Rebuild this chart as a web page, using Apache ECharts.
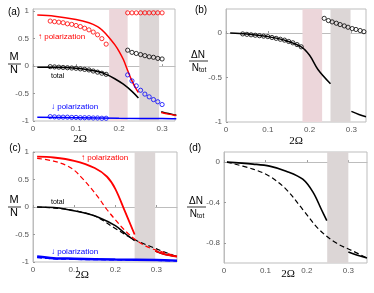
<!DOCTYPE html>
<html><head><meta charset="utf-8">
<script src="https://cdn.jsdelivr.net/npm/echarts@6/dist/echarts.min.js"></script>
<style>html,body{margin:0;padding:0;background:#fff}#c{width:374px;height:293px}</style>
</head><body><div id="c"></div>
<script>
// ---------- Panel (a) ----------
const aCircX1 = [0.04,0.05,0.06,0.07,0.08,0.09,0.10,0.11,0.12,0.13,0.14,0.15,0.16,0.17];
const aRedCirc1 = [0.82,0.81,0.80,0.79,0.77,0.76,0.74,0.72,0.69,0.66,0.62,0.57,0.50,0.40];
const aTotCirc1 = [-0.01,-0.015,-0.02,-0.025,-0.03,-0.035,-0.04,-0.05,-0.06,-0.07,-0.09,-0.11,-0.13,-0.15];
const aBlueCirc1 = [-0.92,-0.925,-0.93,-0.93,-0.93,-0.935,-0.935,-0.94,-0.94,-0.94,-0.945,-0.945,-0.95,-0.95];
const aCircX2 = [0.22,0.23,0.24,0.25,0.26,0.27,0.28,0.29,0.30];
const aRedCirc2 = [0.97,0.97,0.97,0.97,0.97,0.97,0.97,0.97,0.97];
const aTotCirc2 = [0.29,0.25,0.23,0.21,0.19,0.17,0.16,0.14,0.13];
const aBlueCirc2 = [-0.16,-0.27,-0.36,-0.44,-0.51,-0.56,-0.61,-0.65,-0.70];
const aRedLineX = [0.01,0.05,0.10,0.13,0.15,0.16,0.17,0.18,0.19,0.20,0.21,0.22,0.23,0.24,0.245];
const aRedLineY = [0.93,0.91,0.85,0.79,0.72,0.66,0.58,0.49,0.39,0.27,0.12,-0.08,-0.27,-0.42,-0.48];
const aTotLineX = [0.01,0.05,0.10,0.13,0.15,0.17,0.19,0.21,0.23,0.245];
const aTotLineY = [-0.02,-0.02,-0.04,-0.07,-0.10,-0.15,-0.23,-0.33,-0.46,-0.58];
const aRightX = [0.298,0.315,0.333];
const aRedRightY = [-0.845,-0.875,-0.90];
const aTotRightY = [-0.83,-0.865,-0.895];
const aBlueLineX = [0.01,0.10,0.20,0.30,0.333];
const aBlueLineY = [-0.93,-0.94,-0.95,-0.955,-0.96];
const aPinkBand = [0.177,0.22];
const aGrayBand = [0.247,0.293];

// ---------- Panel (b) ----------
const bCircX1 = [0.04,0.05,0.06,0.07,0.08,0.09,0.10,0.11,0.12,0.13,0.14,0.15,0.16,0.17,0.18];
const bCircY1 = [-0.01,-0.015,-0.02,-0.025,-0.03,-0.035,-0.04,-0.05,-0.06,-0.07,-0.08,-0.095,-0.11,-0.13,-0.155];
const bCircX2 = [0.235,0.245,0.254,0.264,0.273,0.283,0.292,0.302,0.311,0.321,0.33];
const bCircY2 = [0.165,0.14,0.125,0.11,0.095,0.08,0.065,0.05,0.04,0.028,0.015];
const bLineX = [0.01,0.05,0.10,0.14,0.18,0.20,0.22,0.25];
const bLineY = [0.0,-0.01,-0.04,-0.08,-0.155,-0.25,-0.41,-0.57];
const bRightX = [0.30,0.318,0.335];
const bRightY = [-0.88,-0.915,-0.94];
const bPinkBand = [0.183,0.23];
const bGrayBand = [0.25,0.298];

// ---------- Panel (c) ----------
const cRedX = [0.01,0.05,0.10,0.15,0.18,0.20,0.223,0.247];
const cRedY = [0.915,0.90,0.84,0.71,0.55,0.33,-0.07,-0.50];
const cRightX = [0.297,0.32,0.35];
const cRedRightY = [-0.80,-0.86,-0.90];
const cRedDashX = [0.01,0.05,0.08,0.10,0.12,0.14,0.16,0.18,0.20,0.22,0.243,0.26,0.283,0.32,0.35];
const cRedDashY = [0.885,0.835,0.76,0.67,0.52,0.35,0.16,-0.05,-0.23,-0.40,-0.56,-0.65,-0.74,-0.83,-0.90];
const cTotX = [0.01,0.05,0.08,0.12,0.16,0.20,0.227,0.247];
const cTotY = [0.0,-0.01,-0.04,-0.10,-0.19,-0.34,-0.50,-0.61];
const cTotDashX = [0.01,0.08,0.138,0.16,0.20,0.243,0.283,0.32,0.35];
const cTotDashY = [0.0,-0.04,-0.13,-0.20,-0.39,-0.58,-0.71,-0.82,-0.90];
const cBlueX = [0.01,0.05,0.10,0.20,0.30,0.35];
const cBlueY = [-0.90,-0.93,-0.94,-0.955,-0.965,-0.975];
const cBlueDashY = [-0.92,-0.94,-0.95,-0.96,-0.97,-0.98];
const cGrayBand = [0.247,0.297];

// ---------- Panel (d) ----------
const dX = [0.007,0.07,0.11,0.15,0.19,0.215,0.235,0.248];
const dY = [0.0,-0.02,-0.04,-0.09,-0.17,-0.30,-0.47,-0.58];
const dRightX = [0.30,0.32,0.345];
const dRightY = [-0.89,-0.92,-0.95];
const dDashX = [0.007,0.07,0.11,0.15,0.19,0.23,0.27,0.31,0.345];
const dDashY = [0.0,-0.07,-0.14,-0.27,-0.47,-0.67,-0.80,-0.88,-0.95];
const dGrayBand = [0.249,0.30];

// tick labels
const xTicks = [0,0.1,0.2,0.3];
const yTicksAC = [-1,-0.5,0,0.5,1];
const yTicksB = [-1,-0.5,0];
const yTicksD = [-0.8,-0.4,0];

const zip = (xs, ys) => xs.map((x,i)=>[x, ys[i]]);
const RED='#ff0000', BLUE='#0000ff', BLK='#000000';
const PINK='#ecd6da', GRAY='#dcd6d6';
const AX='#bdbdbd';

function grid(l,t,w,h){return {left:l,top:t,width:w,height:h,show:true,borderColor:AX,borderWidth:1,backgroundColor:'transparent'};}
function xAx(i,max){return {type:'value',gridIndex:i,min:0,max:max,
  axisLine:{show:true,lineStyle:{color:AX}},splitLine:{show:false},
  axisTick:{show:true,inside:true,length:2,lineStyle:{color:'#999'},customValues:xTicks},
  axisLabel:{customValues:xTicks,fontSize:8,color:'#555',fontFamily:'Liberation Sans',margin:4,formatter:v=>String(v)}};}
function yAx(i,min,max,ticks){return {type:'value',gridIndex:i,min:min,max:max,
  axisLine:{show:true,lineStyle:{color:AX}},splitLine:{show:false},
  axisTick:{show:true,inside:true,length:2,lineStyle:{color:'#999'},customValues:ticks},
  axisLabel:{customValues:ticks,fontSize:8,color:'#555',fontFamily:'Liberation Sans',margin:4,formatter:v=>String(v)}};}

function band(i, range, color){
  return {type:'line',xAxisIndex:i,yAxisIndex:i,data:[],silent:true,z:1,
    markArea:{silent:true,itemStyle:{color:color},data:[[{xAxis:range[0]},{xAxis:range[1]}]]}};
}
function line(i, data, color, opts){
  opts = opts||{};
  return {type:'line',xAxisIndex:i,yAxisIndex:i,data:data,showSymbol:false,smooth:0.35,z:opts.z||3,
    lineStyle:{color:color,width:opts.w||1.5,type:opts.dash?[5,3]:'solid'},silent:true,animation:false};
}
function circ(i, data, color){
  return {type:'scatter',xAxisIndex:i,yAxisIndex:i,data:data,symbol:'circle',symbolSize:4.2,z:4,
    itemStyle:{color:'rgba(0,0,0,0)',borderColor:color,borderWidth:1},silent:true,animation:false};
}

const series = [
  band(0,aPinkBand,PINK), band(0,aGrayBand,GRAY),
  line(0,zip(aBlueLineX,aBlueLineY),BLUE),
  line(0,zip(aTotLineX,aTotLineY),BLK),
  line(0,zip(aRedLineX,aRedLineY),RED),
  line(0,zip(aRightX,aTotRightY),BLK),
  line(0,zip(aRightX,aRedRightY),RED),
  circ(0,zip(aCircX1,aRedCirc1),RED), circ(0,zip(aCircX1,aTotCirc1),BLK), circ(0,zip(aCircX1,aBlueCirc1),BLUE),
  circ(0,zip(aCircX2,aRedCirc2),RED), circ(0,zip(aCircX2,aTotCirc2),BLK), circ(0,zip(aCircX2,aBlueCirc2),BLUE),

  band(1,bPinkBand,PINK), band(1,bGrayBand,GRAY),
  line(1,zip(bLineX,bLineY),BLK), line(1,zip(bRightX,bRightY),BLK),
  circ(1,zip(bCircX1,bCircY1),BLK), circ(1,zip(bCircX2,bCircY2),BLK),

  band(2,cGrayBand,GRAY),
  line(2,zip(cBlueX,cBlueDashY),BLUE,{dash:true}),
  line(2,zip(cBlueX,cBlueY),BLUE,{w:2.5}),
  line(2,zip(cTotDashX,cTotDashY),BLK,{dash:true,w:1.2}),
  line(2,zip(cTotX,cTotY),BLK),
  line(2,zip(cRightX,cRedRightY),BLK),
  line(2,zip(cRedDashX,cRedDashY),RED,{dash:true,w:1.2}),
  line(2,zip(cRedX,cRedY),RED,{w:1.8}),
  line(2,zip(cRightX,cRedRightY),RED,{w:1.8}),

  band(3,dGrayBand,GRAY),
  line(3,zip(dDashX,dDashY),BLK,{dash:true,w:1.2}),
  line(3,zip(dX,dY),BLK,{w:1.6}),
  line(3,zip(dRightX,dRightY),BLK,{w:1.6})
];

function txt(x,y,t,o){o=o||{};return {type:'text',x:x,y:y,silent:true,z:100,style:{text:t,fill:o.c||'#000',font:(o.s||9)+'px '+(o.f||'Liberation Sans'),align:o.a||'center',verticalAlign:'middle'}};}
function hl(x1,x2,y){return {type:'line',silent:true,z:100,shape:{x1:x1,y1:y,x2:x2,y2:y},style:{stroke:'#000',lineWidth:0.8}};}
function ntot(x,y){return {type:'text',x:x,y:y,silent:true,z:100,style:{text:'{n|N}{s|tot}',align:'center',verticalAlign:'middle',rich:{n:{fontSize:10,fontFamily:'Liberation Sans',fill:'#000'},s:{fontSize:6.5,fontFamily:'Liberation Sans',fill:'#000',verticalAlign:'bottom',padding:[4,0,0,0]}}}};}

const graphic = [
  txt(14,12,'(a)',{s:10}), txt(201,10,'(b)',{s:10}), txt(15,148,'(c)',{s:10}), txt(195,148,'(d)',{s:10}),
  txt(14,57,'M',{s:11}), hl(8,21,64), txt(14,70,'N',{s:11}),
  txt(14,200,'M',{s:11}), hl(8,21,207), txt(14,213,'N',{s:11}),
  txt(198,55,'ΔN',{s:10}), hl(189,208,61), ntot(199,68),
  txt(196,201,'ΔN',{s:10}), hl(187,206,207), ntot(197,214),
  txt(80,139,'2Ω',{s:11,f:'Liberation Serif'}), txt(296,141,'2Ω',{s:11,f:'Liberation Serif'}),
  txt(82,275,'2Ω',{s:11,f:'Liberation Serif'}), txt(288,274,'2Ω',{s:11,f:'Liberation Serif'}),
  txt(38,37,'↑ polarization',{s:8,c:RED,a:'left'}),
  txt(51,107,'↓ polarization',{s:8,c:BLUE,a:'left'}),
  txt(51,76,'total',{s:7,a:'left'}),
  txt(81,158,'↑ polarization',{s:8,c:RED,a:'left'}),
  txt(51,252,'↓ polarization',{s:8,c:BLUE,a:'left'}),
  txt(51,202,'total',{s:7,a:'left'})
];

const chart = echarts.init(document.getElementById('c'),null,{renderer:'canvas'});
chart.setOption({
  animation:false,
  grid:[grid(33,9,142,112), grid(226,9,140,113), grid(33,152,144,110), grid(224,152,143,111)],
  xAxis:[xAx(0,0.33), xAx(1,0.335), xAx(2,0.35), xAx(3,0.345)],
  yAxis:[yAx(0,-1,1.04,yTicksAC), yAx(1,-1,0.27,yTicksB), yAx(2,-1,1,yTicksAC), yAx(3,-1,0.1,yTicksD)],
  series:series,
  graphic:graphic
});
</script></body></html>
